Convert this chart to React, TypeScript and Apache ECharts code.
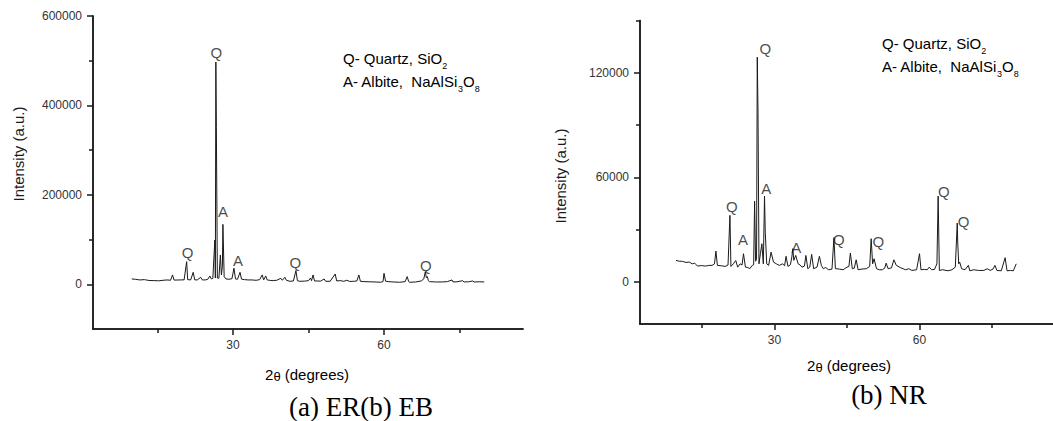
import React, { useEffect, useRef } from "react";
import * as echarts from "echarts";

// ER(b) EB sample: [2θ (deg), intensity]
const erData: [number, number][] = [
  [9.9, 11900], [10.6, 11200], [11.5, 9700], [12.4, 10400], [13.3, 8600], [14.3, 8200], [15.2, 7800],
  [16.1, 8900], [16.9, 9700], [17.6, 9000], [18.0, 20900], [18.3, 9400], [19.5, 9700], [20.3, 10000],
  [20.8, 50700], [21.0, 10400], [21.6, 9800], [22.1, 26800], [22.4, 10000], [22.9, 9700], [23.6, 15600],
  [23.9, 9800], [24.5, 9700], [25.0, 11200], [25.4, 18600], [25.7, 12000], [26.0, 13400], [26.4, 99000],
  [26.5, 14000], [26.6, 497000], [26.7, 350000], [26.9, 14000], [27.2, 13400], [27.5, 65500], [27.7, 20900],
  [27.9, 40000], [28.0, 134000], [28.25, 17000], [28.6, 11900], [29.2, 11200], [29.8, 12500], [30.2, 35800],
  [30.5, 12000], [30.9, 11200], [31.4, 26800], [31.7, 11500], [32.3, 10400], [33.0, 9700], [33.8, 9700],
  [34.6, 8900], [35.3, 10400], [35.8, 20900], [36.1, 10000], [36.5, 18600], [36.8, 9700], [37.5, 8500],
  [38.0, 8200], [38.7, 9000], [39.5, 13400], [39.8, 9000], [40.3, 15600], [40.6, 9000], [41.3, 6700],
  [42.0, 7400], [42.5, 30500], [42.8, 8000], [43.3, 6700], [44.2, 7000], [45.0, 8200], [45.4, 14000],
  [45.6, 8000], [45.9, 20900], [46.2, 7500], [46.7, 7400], [47.4, 7000], [48.1, 11900], [48.4, 6700],
  [49.3, 6700], [50.3, 23000], [50.6, 7400], [51.3, 8200], [52.0, 6700], [52.6, 9000], [53.2, 6300],
  [54.0, 6700], [54.6, 7400], [55.0, 20900], [55.3, 6700], [56.0, 6000], [57.0, 5600], [58.2, 5200],
  [59.3, 4500], [59.8, 6000], [60.0, 24600], [60.3, 7000], [60.8, 6000], [61.8, 5200], [63.1, 4500],
  [64.2, 6000], [64.6, 17100], [64.9, 6000], [65.1, 4500], [66.3, 5200], [67.4, 7500], [67.9, 12000],
  [68.2, 28300], [68.4, 15000], [68.6, 17100], [68.8, 8000], [69.0, 6000], [70.2, 5200], [71.6, 5200],
  [72.6, 6000], [73.5, 9700], [73.7, 5200], [74.5, 5600], [75.6, 8000], [75.9, 5200], [76.8, 5600],
  [77.6, 7400], [77.9, 5200], [79.0, 5600], [79.9, 5200],
];

// NR sample: [2θ (deg), intensity]
const nrData: [number, number][] = [
  [9.65, 12460], [10.3, 12000], [11.0, 11900], [11.7, 11300], [12.4, 11500], [13.0, 10500], [13.5, 10900],
  [14.1, 9200], [14.9, 9500], [15.75, 9200], [16.4, 9600], [17.1, 9600], [17.6, 10500], [17.9, 17800],
  [18.2, 9600], [19.0, 9400], [19.8, 9000], [20.4, 9800], [20.8, 38300], [21.0, 9000], [21.5, 10500],
  [22.0, 12400], [22.4, 8600], [22.9, 10500], [23.3, 9800], [23.6, 16300], [24.0, 8600], [24.5, 8400],
  [24.9, 7700], [25.4, 9600], [25.7, 10000], [25.9, 46400], [26.1, 12000], [26.3, 13000], [26.45, 129000],
  [26.6, 97200], [26.8, 10500], [27.1, 16300], [27.4, 22000], [27.7, 10500], [27.95, 49300], [28.1, 28700],
  [28.4, 10500], [28.8, 9600], [29.3, 17200], [29.8, 11500], [30.4, 10500], [31.0, 9600], [31.7, 10500],
  [32.1, 9400], [32.4, 14800], [32.8, 9000], [33.3, 10000], [33.6, 14400], [33.8, 19200], [34.0, 12500],
  [34.4, 15300], [34.9, 10500], [35.3, 9800], [35.7, 8600], [36.2, 9200], [36.5, 15300], [36.9, 7700],
  [37.3, 8600], [37.7, 15900], [38.1, 7700], [38.8, 8600], [39.3, 14800], [39.7, 9600], [40.1, 7700],
  [40.6, 8400], [41.2, 7100], [41.9, 7500], [42.3, 25500], [42.6, 7700], [43.4, 7500], [44.2, 7100],
  [45.0, 8600], [45.4, 9000], [45.7, 16700], [46.1, 7700], [46.5, 8000], [46.9, 12800], [47.3, 7100],
  [48.1, 7500], [49.0, 7700], [49.7, 9000], [50.0, 24900], [50.3, 10500], [50.6, 13400], [51.1, 7700],
  [51.7, 7100], [52.3, 7100], [52.8, 8000], [53.1, 10900], [53.5, 7700], [54.2, 8200], [54.7, 12800],
  [55.2, 9600], [56.0, 8400], [57.1, 7100], [57.8, 7700], [58.4, 6700], [59.4, 7100], [60.0, 16300],
  [60.3, 7100], [61.0, 7300], [61.6, 7100], [62.0, 8600], [62.5, 7100], [63.1, 7300], [63.6, 10500],
  [63.85, 49300], [64.1, 6700], [64.8, 7100], [65.9, 6500], [66.7, 7100], [67.4, 8600], [67.8, 33900],
  [67.9, 23000], [68.1, 10500], [68.3, 11500], [68.7, 7700], [69.4, 7100], [70.1, 9600], [70.4, 6500],
  [71.2, 7100], [72.2, 6700], [73.3, 6700], [74.0, 7700], [74.6, 6700], [75.2, 7500], [75.6, 9600],
  [76.0, 6700], [76.9, 6500], [77.7, 14000], [78.1, 6500], [78.8, 6700], [79.4, 6500], [80.0, 10500],
];

// Phase labels: [2θ, intensity, text]
const erPeakLabels: [number, number, string][] = [
  [26.7, 518000, "Q"], [28.0, 162000, "A"], [21.0, 71500, "Q"],
  [31.0, 54300, "A"], [42.4, 48300, "Q"], [68.3, 43100, "Q"],
];
const nrPeakLabels: [number, number, string][] = [
  [28.1, 134200, "Q"], [28.3, 53700, "A"], [21.2, 43100, "Q"], [23.5, 24300, "A"],
  [34.5, 20100, "A"], [43.3, 24300, "Q"], [51.5, 23400, "Q"], [65.0, 51800, "Q"], [69.1, 34500, "Q"],
];

const xRange = [2.2, 87.6];
const xMajorTicks = [30, 60];
const xMinorTicks = [15, 45, 75];
const erYRange = [-100000, 600000];
const erYMajorTicks = [0, 200000, 400000, 600000];
const erYMinorTicks = [100000, 300000, 500000];
const nrYRange = [-24000, 150000];
const nrYMajorTicks = [0, 60000, 120000];
const nrYMinorTicks = [30000, 90000, 150000];

const xTitle = "{m|2}{t|θ}{m| (degrees)}";
const yTitle = "Intensity (a.u.)";
const legendText = "{a|Q- Quartz, SiO}{s|2}\n{a|A- Albite,  NaAlSi}{s|3}{a|O}{s|8}";
const erCaption = "(a) ER(b) EB";
const nrCaption = "(b) NR";

const SANS = "'Liberation Sans', Arial, sans-serif";
const SERIF = "'Liberation Serif', 'Times New Roman', serif";
const INK = "#1a1a1a";

const plain = (v: number) => String(v);

function xAxisOf(gridIndex: number, ticks: number[], tickLen: number, withLabels: boolean) {
  return {
    type: "value", gridIndex, min: xRange[0], max: xRange[1], position: "bottom",
    axisLine: { show: true, onZero: false, lineStyle: { color: INK, width: 1.5 } },
    axisTick: { show: true, customValues: ticks, length: tickLen, lineStyle: { color: INK, width: 1.5 } },
    axisLabel: withLabels
      ? { show: true, customValues: ticks, formatter: plain, margin: 10, color: "#333", fontSize: 12, fontFamily: SANS }
      : { show: false },
    splitLine: { show: false },
  };
}
function yAxisOf(gridIndex: number, range: number[], ticks: number[], tickLen: number, withLabels: boolean) {
  return {
    type: "value", gridIndex, min: range[0], max: range[1], position: "left",
    axisLine: { show: true, onZero: false, lineStyle: { color: INK, width: 1.5 } },
    axisTick: { show: true, customValues: ticks, length: tickLen, lineStyle: { color: INK, width: 1.5 } },
    axisLabel: withLabels
      ? { show: true, customValues: ticks, formatter: plain, margin: 11, color: "#333", fontSize: 12, fontFamily: SANS }
      : { show: false },
    splitLine: { show: false },
  };
}

function labelSeries(xIdx: number, yIdx: number, data: [number, number, string][]) {
  return {
    type: "scatter", xAxisIndex: xIdx, yAxisIndex: yIdx, data,
    symbolSize: 0, itemStyle: { color: INK }, silent: true,
    label: {
      show: true, position: "inside", formatter: (p: any) => p.data[2],
      fontSize: 15, fontFamily: SANS, color: INK, textBorderWidth: 0,
    },
  };
}

const legendRich = {
  a: { fontSize: 15, fontFamily: SANS, color: INK, lineHeight: 23 },
  s: { fontSize: 9, fontFamily: SANS, color: INK, lineHeight: 9, verticalAlign: "bottom" },
};
const xTitleRich = {
  m: { fontSize: 15, fontFamily: SANS, color: INK, lineHeight: 18 },
  t: { fontSize: 13, fontFamily: SANS, color: INK, lineHeight: 16, verticalAlign: "bottom" },
};

const erRect = { left: 93, top: 16, width: 430, height: 313 };
const nrRect = { left: 640, top: 20.5, width: 420, height: 303.5 };

export default function App() {
  const ref = useRef<HTMLDivElement>(null);
  useEffect(() => {
    if (!ref.current) return;
    const chart = echarts.init(ref.current, null, { renderer: "svg" });
    chart.setOption({
      animation: false,
      backgroundColor: "#fff",
      // grids 2 and 3 overlay grids 0 and 1 and carry only the minor ticks
      grid: [erRect, nrRect, erRect, nrRect],
      xAxis: [
        xAxisOf(0, xMajorTicks, 6, true), xAxisOf(1, xMajorTicks, 6, true),
        xAxisOf(2, xMinorTicks, 4, false), xAxisOf(3, xMinorTicks, 4, false),
      ],
      yAxis: [
        yAxisOf(0, erYRange, erYMajorTicks, 6, true), yAxisOf(1, nrYRange, nrYMajorTicks, 6, true),
        yAxisOf(2, erYRange, erYMinorTicks, 4, false), yAxisOf(3, nrYRange, nrYMinorTicks, 4, false),
      ],
      series: [
        {
          type: "line", xAxisIndex: 0, yAxisIndex: 0, data: erData, showSymbol: false,
          lineStyle: { color: INK, width: 1 }, silent: true,
        },
        {
          type: "line", xAxisIndex: 1, yAxisIndex: 1, data: nrData, showSymbol: false,
          lineStyle: { color: INK, width: 1 }, silent: true,
        },
        labelSeries(0, 0, erPeakLabels),
        labelSeries(1, 1, nrPeakLabels),
      ],
      graphic: [
        { type: "text", x: 18, y: 154, rotation: Math.PI / 2, style: { text: yTitle, fontSize: 15, fontFamily: SANS, fill: INK, align: "center", verticalAlign: "middle" } },
        { type: "text", x: 560, y: 176, rotation: Math.PI / 2, style: { text: yTitle, fontSize: 15, fontFamily: SANS, fill: INK, align: "center", verticalAlign: "middle" } },
        { type: "text", x: 307, y: 374, style: { text: xTitle, rich: xTitleRich, align: "center", verticalAlign: "middle" } },
        { type: "text", x: 849, y: 365, style: { text: xTitle, rich: xTitleRich, align: "center", verticalAlign: "middle" } },
        { type: "text", x: 343, y: 47, style: { text: legendText, rich: legendRich, align: "left", verticalAlign: "top" } },
        { type: "text", x: 882, y: 32, style: { text: legendText, rich: legendRich, align: "left", verticalAlign: "top" } },
        { type: "text", x: 361, y: 407, style: { text: erCaption, fontSize: 27, fontFamily: SERIF, fill: "#000", align: "center", verticalAlign: "middle" } },
        { type: "text", x: 889, y: 395, style: { text: nrCaption, fontSize: 27, fontFamily: SERIF, fill: "#000", align: "center", verticalAlign: "middle" } },
      ],
    });
    return () => chart.dispose();
  }, []);
  return (
    <div
      ref={ref}
      style={{ position: "absolute", left: 0, top: 0, width: 1053, height: 421, background: "#fff" }}
    />
  );
}
